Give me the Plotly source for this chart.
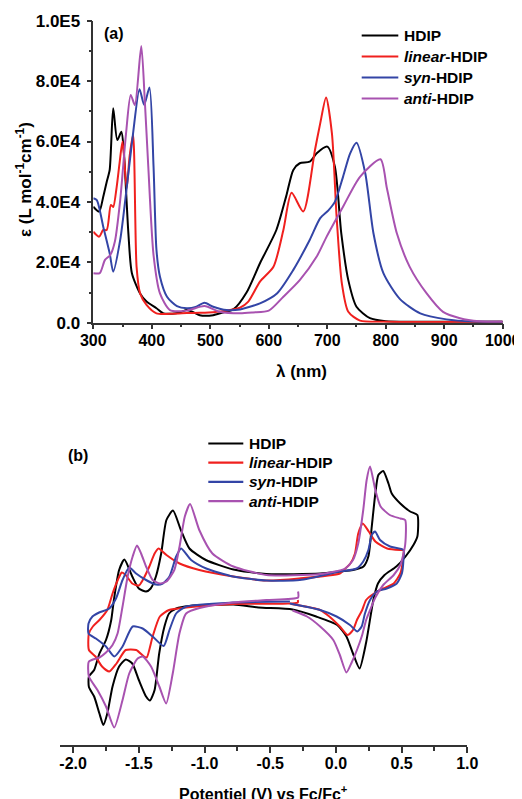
import plotly.graph_objects as go

FONT = "Liberation Sans, Arial, sans-serif"
C_BLACK = "#000000"
C_RED = "#F0201E"
C_BLUE = "#3345A6"
C_PURPLE = "#A852B0"

names = ["HDIP", "<i>linear</i>-HDIP", "<i>syn</i>-HDIP", "<i>anti</i>-HDIP"]
colors = [C_BLACK, C_RED, C_BLUE, C_PURPLE]

# ---------------- (a) absorption spectra: wavelength (nm), epsilon (x1000 L mol-1 cm-1)
wl_hdip = [300, 310, 317, 323, 328, 334, 341, 348, 352, 360, 366, 380, 391, 408, 420, 435, 448,
           460, 470, 482, 505, 520, 540, 562, 585, 613, 630, 642, 653, 670, 682, 700, 713, 724,
           736, 750, 773, 800, 850, 1000]
eps_hdip = [38.4, 36.8, 41.7, 46.7, 50.6, 71.0, 60.5, 63.2, 57.2, 29.6, 16.4, 9.7, 7.0, 4.8, 3.1,
            3.0, 3.4, 4.2, 3.6, 2.5, 2.5, 3.3, 4.5, 10.0, 19.7, 30.7, 42.0, 50.6, 52.8, 53.3,
            56.1, 58.3, 51.7, 29.6, 14.1, 5.3, 1.5, 0.5, 0.3, 0.3]

wl_linear = [300, 310, 317, 323, 330, 334, 340, 345, 350, 357, 362, 368, 374, 380, 391, 408, 437,
             460, 482, 505, 528, 551, 565, 585, 608, 625, 639, 659, 679, 688, 698, 708, 716, 725,
             736, 756, 800, 1000]
eps_linear = [30.1, 28.5, 30.7, 30.7, 39.0, 38.3, 45.0, 53.0, 60.0, 44.5, 55.0, 62.2, 18.5, 9.7,
              5.9, 3.1, 3.0, 3.2, 3.3, 3.5, 4.0, 5.0, 7.0, 13.6, 18.5, 30.7, 43.0, 36.8, 57.2,
              66.0, 74.6, 62.7, 35.1, 13.0, 3.6, 0.7, 0.3, 0.3]

wl_syn = [300, 306, 317, 328, 334, 346, 357, 368, 379, 387, 396, 403, 408, 414, 426, 443, 460,
          475, 490, 505, 528, 551, 573, 585, 614, 642, 670, 688, 702, 713, 727, 739, 750, 765,
          779, 796, 824, 859, 904, 950, 1000]
eps_syn = [41.2, 40.6, 31.8, 23.0, 16.9, 27.4, 44.5, 62.7, 77.3, 72.1, 77.9, 51.7, 24.1, 15.2,
           8.6, 5.5, 4.8, 5.2, 6.6, 5.3, 4.2, 4.4, 5.6, 6.4, 9.7, 17.5, 27.4, 34.6, 37.2, 40.0,
           48.3, 56.0, 59.6, 49.5, 29.6, 16.4, 7.9, 3.1, 1.1, 0.4, 0.3]

wl_anti = [300, 311, 320, 329, 337, 346, 356, 364, 371, 382, 388, 394, 403, 414, 431, 460, 490,
           516, 551, 573, 600, 625, 653, 682, 699, 727, 756, 791, 802, 819, 841, 870, 898, 927,
           960, 1000]
eps_anti = [16.4, 16.4, 20.8, 22.4, 27.0, 40.6, 62.7, 75.4, 72.1, 91.6, 73.7, 51.7, 22.4, 9.7,
            4.2, 4.0, 5.5, 3.6, 3.1, 3.4, 4.0, 8.6, 14.1, 21.9, 28.5, 38.4, 48.3, 54.1, 44.5,
            29.6, 18.5, 9.7, 3.6, 1.5, 0.5, 0.3]

spectra = [(wl_hdip, eps_hdip), (wl_linear, eps_linear), (wl_syn, eps_syn), (wl_anti, eps_anti)]

eps_ticks = [0, 20000, 40000, 60000, 80000, 100000]
eps_ticktext = ["0.0", "2.0E4", "4.0E4", "6.0E4", "8.0E4", "1.0E5"]
wl_ticks = [300, 400, 500, 600, 700, 800, 900, 1000]

# ---------------- (b) cyclic voltammograms: (E vs Fc/Fc+ in V, current in arbitrary units)
cv_hdip = [(-0.59, -1.5), (-0.33, -1.9), (-0.15, -3.3), (0.01, -5.0), (0.08, -7.3), (0.13, -10.7),
           (0.18, -13.7), (0.23, -8.5), (0.285, 0.0), (0.32, 3.3), (0.37, 5.0), (0.46, 6.7),
           (0.53, 8.7), (0.59, 11.0), (0.62, 12.7), (0.62, 17.0), (0.565, 17.7), (0.49, 19.3),
           (0.425, 21.3), (0.40, 23.3), (0.36, 25.8), (0.323, 25.0), (0.30, 21.3), (0.273, 14.7),
           (0.247, 8.7), (0.21, 6.7), (0.13, 6.0), (0.03, 5.7), (-0.12, 5.3), (-0.53, 5.2),
           (-0.78, 6.1), (-0.99, 8.0), (-1.115, 10.3), (-1.18, 14.0), (-1.24, 17.9), (-1.29, 16.0),
           (-1.33, 9.3), (-1.37, 4.7), (-1.41, 2.3), (-1.445, 1.7), (-1.50, 2.3), (-1.55, 4.7),
           (-1.61, 8.1), (-1.65, 6.0), (-1.69, 0.0), (-1.71, -4.0), (-1.75, -8.0), (-1.80, -10.7),
           (-1.84, -14.0), (-1.88, -15.3), (-1.88, -17.4), (-1.84, -19.3), (-1.80, -22.7),
           (-1.77, -25.0), (-1.74, -22.7), (-1.70, -17.3), (-1.65, -13.3), (-1.60, -11.9),
           (-1.55, -12.7), (-1.50, -16.0), (-1.445, -19.3), (-1.415, -20.1), (-1.38, -18.0),
           (-1.345, -10.7), (-1.305, -5.3), (-1.27, -2.7), (-1.215, -1.7), (-1.115, -1.2),
           (-0.78, -0.9), (-0.59, -1.5)]

cv_linear = [(-0.34, -0.8), (-0.12, -2.0), (-0.05, -3.3), (0.03, -5.3), (0.09, -7.0), (0.13, -6.0),
             (0.16, -4.0), (0.20, -2.0), (0.23, 0.0), (0.29, 1.3), (0.36, 2.3), (0.44, 3.3),
             (0.49, 5.3), (0.51, 8.0), (0.514, 10.0), (0.49, 10.0), (0.39, 10.3), (0.30, 11.7),
             (0.25, 13.7), (0.204, 15.3), (0.17, 13.3), (0.145, 9.3), (0.11, 7.3), (0.06, 6.0),
             (0.03, 5.3), (-0.28, 4.3), (-0.53, 3.9), (-0.78, 4.7), (-1.04, 6.0), (-1.19, 7.3),
             (-1.29, 9.0), (-1.35, 10.3), (-1.38, 9.3), (-1.42, 6.7), (-1.47, 4.0), (-1.50, 2.9),
             (-1.55, 3.3), (-1.60, 5.0), (-1.63, 5.5), (-1.66, 4.0), (-1.70, 1.3), (-1.74, -2.0),
             (-1.80, -4.0), (-1.85, -5.3), (-1.88, -6.7), (-1.88, -10.0), (-1.83, -11.3),
             (-1.78, -13.3), (-1.725, -14.3), (-1.67, -12.7), (-1.60, -10.0), (-1.52, -10.0),
             (-1.46, -11.3), (-1.44, -11.5), (-1.395, -7.3), (-1.34, -3.3), (-1.27, -2.0),
             (-1.14, -1.5), (-0.78, -0.8), (-0.29, -0.5), (-0.29, 0.0)]

cv_syn = [(-0.35, -0.7), (-0.12, -2.0), (0.005, -3.3), (0.107, -5.0), (0.163, -6.3), (0.196, -5.3),
          (0.221, -2.7), (0.26, 0.0), (0.311, 1.7), (0.387, 2.3), (0.463, 3.3), (0.502, 5.3),
          (0.514, 8.0), (0.514, 10.0), (0.412, 10.7), (0.336, 12.0), (0.298, 13.7), (0.273, 13.0),
          (0.247, 10.0), (0.208, 7.7), (0.158, 6.3), (0.031, 5.7), (-0.275, 4.0), (-0.529, 3.9),
          (-0.784, 4.7), (-0.987, 6.3), (-1.102, 8.0), (-1.178, 10.3), (-1.216, 8.7),
          (-1.267, 4.7), (-1.318, 3.3), (-1.369, 3.1), (-1.445, 4.0), (-1.521, 5.3), (-1.573, 6.5),
          (-1.624, 4.0), (-1.674, 0.3), (-1.725, -1.7), (-1.802, -2.5), (-1.853, -3.3),
          (-1.883, -4.7), (-1.883, -6.7), (-1.827, -7.7), (-1.75, -9.3), (-1.687, -11.3),
          (-1.624, -9.3), (-1.547, -5.3), (-1.471, -5.7), (-1.395, -7.3), (-1.311, -9.2),
          (-1.267, -6.0), (-1.216, -2.7), (-1.14, -1.3), (-0.784, -0.5), (-0.35, -0.3)]

cv_anti = [(-0.33, -2.1), (-0.22, -3.3), (-0.12, -5.3), (-0.02, -8.0), (0.03, -11.0), (0.08, -14.5),
           (0.12, -12.5), (0.16, -10.0), (0.20, -7.0), (0.23, -4.0), (0.26, -2.0), (0.30, 0.5),
           (0.36, 3.0), (0.44, 5.0), (0.49, 7.0), (0.527, 11.0), (0.527, 16.0), (0.49, 16.3),
           (0.41, 17.0), (0.34, 18.7), (0.30, 22.0), (0.26, 26.7), (0.234, 24.0), (0.208, 18.0),
           (0.17, 11.3), (0.13, 8.0), (0.07, 6.3), (-0.12, 5.2), (-0.53, 5.0), (-0.78, 6.7),
           (-0.94, 9.3), (-1.04, 14.0), (-1.11, 19.2), (-1.15, 16.7), (-1.19, 10.7), (-1.23, 6.0),
           (-1.29, 3.7), (-1.34, 3.3), (-1.395, 4.0), (-1.445, 6.7), (-1.483, 9.3), (-1.514, 10.9),
           (-1.547, 8.7), (-1.585, 4.7), (-1.624, -1.3), (-1.662, -6.7), (-1.70, -9.0),
           (-1.75, -10.5), (-1.80, -11.5), (-1.88, -12.3), (-1.88, -15.3), (-1.815, -18.0),
           (-1.75, -21.3), (-1.687, -25.5), (-1.624, -20.0), (-1.573, -14.7), (-1.509, -11.7),
           (-1.471, -11.3), (-1.407, -13.3), (-1.344, -17.3), (-1.292, -20.7), (-1.242, -14.7),
           (-1.191, -6.7), (-1.14, -2.7), (-1.038, -1.6), (-0.784, -0.5), (-0.529, 0.0),
           (-0.288, 0.5), (-0.288, 1.7)]

cvs = [cv_hdip, cv_linear, cv_syn, cv_anti]
e_ticks = [-2.0, -1.5, -1.0, -0.5, 0.0, 0.5, 1.0]
e_ticktext = ["-2.0", "-1.5", "-1.0", "-0.5", "0.0", "0.5", "1.0"]

fig = go.Figure()

for (wl, eps), col, nm in zip(spectra, colors, names):
    fig.add_trace(go.Scatter(
        x=wl, y=[v * 1000 for v in eps], mode="lines", name=nm, showlegend=False,
        line=dict(color=col, width=2, shape="spline", smoothing=0.7),
        xaxis="x", yaxis="y"))

for cv, col, nm in zip(cvs, colors, names):
    fig.add_trace(go.Scatter(
        x=[p[0] for p in cv], y=[p[1] for p in cv], mode="lines", name=nm, showlegend=False,
        line=dict(color=col, width=2, shape="spline", smoothing=0.6),
        xaxis="x2", yaxis="y2"))

# page body adds an 8px offset; work in window pixels (S) and convert to paper fractions
OFF = 8
W, H = 530, 807
def px(s):
    return (s - OFF) / W
def py(s):
    return (H + OFF - s) / H

axcol = "#333333"
tickfont = dict(family=FONT, size=16, color="black", weight="bold")

fig.update_layout(
    width=W, height=H, margin=dict(l=0, r=0, t=0, b=0, pad=0, autoexpand=False),
    paper_bgcolor="white", plot_bgcolor="white", showlegend=False,
    font=dict(family=FONT, color="black"),
    xaxis=dict(domain=[px(93.3), px(502.7)], range=[300, 1000], anchor="y", automargin=False,
               showgrid=False, zeroline=False, showline=True, linecolor=axcol, linewidth=1.5,
               ticks="outside", ticklen=5, tickwidth=1.5, tickcolor=axcol,
               tickvals=wl_ticks, tickfont=tickfont, ticklabelstandoff=-3,
               minor=dict(dtick=50, ticks="outside", ticklen=3, tickwidth=1.5, tickcolor=axcol)),
    yaxis=dict(domain=[py(322.7), py(20.7)], range=[0, 100000], anchor="x", automargin=False,
               showgrid=False, zeroline=False, showline=True, linecolor=axcol, linewidth=1.5,
               ticks="outside", ticklen=5, tickwidth=1.5, tickcolor=axcol,
               tickvals=eps_ticks, ticktext=eps_ticktext,
               tickfont=dict(family=FONT, size=17, color="black", weight="bold"),
               ticklabelstandoff=3,
               minor=dict(dtick=10000, ticks="outside", ticklen=3, tickwidth=1.5, tickcolor=axcol)),
    xaxis2=dict(domain=[px(60), px(467.3)], range=[-2.1, 1.0], anchor="y2", automargin=False,
                showgrid=False, zeroline=False, showline=True, linecolor=axcol, linewidth=1.5,
                ticks="outside", ticklen=6, tickwidth=1.5, tickcolor=axcol,
                tickvals=e_ticks, ticktext=e_ticktext, tickfont=tickfont, ticklabelstandoff=-3,
                minor=dict(dtick=0.25, tick0=0, ticks="outside", ticklen=4, tickwidth=1.5,
                           tickcolor=axcol)),
    yaxis2=dict(domain=[py(745), py(440)], range=[-29, 32], anchor="x2", visible=False,
                automargin=False),
)

# legends drawn as sample line + text
def add_legend(x_line0, x_line1, x_text, y_first, step, size):
    for i, (nm, col) in enumerate(zip(names, colors)):
        yy = y_first + i * step
        fig.add_shape(type="line", xref="paper", yref="paper",
                      x0=px(x_line0), x1=px(x_line1), y0=py(yy), y1=py(yy),
                      line=dict(color=col, width=2.2))
        fig.add_annotation(text=nm, x=px(x_text), y=py(yy), xref="paper", yref="paper",
                           xanchor="left", yanchor="middle", showarrow=False,
                           font=dict(family=FONT, size=size, color="black", weight="bold"))

add_legend(361.7, 398.3, 401.5, 35.5, 21.0, 15.5)
add_legend(208.3, 243.3, 246.5, 443.5, 19.2, 15.5)

bold17 = dict(family=FONT, size=17, color="black", weight="bold")
bold16 = dict(family=FONT, size=16, color="black", weight="bold")
def label(text, sx, sy, font, **kw):
    fig.add_annotation(text=text, x=px(sx), y=py(sy), xref="paper", yref="paper",
                       xanchor="center", yanchor=kw.pop("yanchor", "middle"),
                       showarrow=False, font=font, **kw)

label("(a)", 114, 33.5, bold16)
label("(b)", 77.5, 455, bold16)
label("λ (nm)", 301, 371, bold17)
label("ε (L mol<sup>-1</sup>cm<sup>-1</sup>)", 24, 180, bold17, textangle=-90)
label("Potentiel (V) vs Fc/Fc<sup>+</sup>", 263.5, 781, bold16, yanchor="top")

fig.write_html("out.html")
